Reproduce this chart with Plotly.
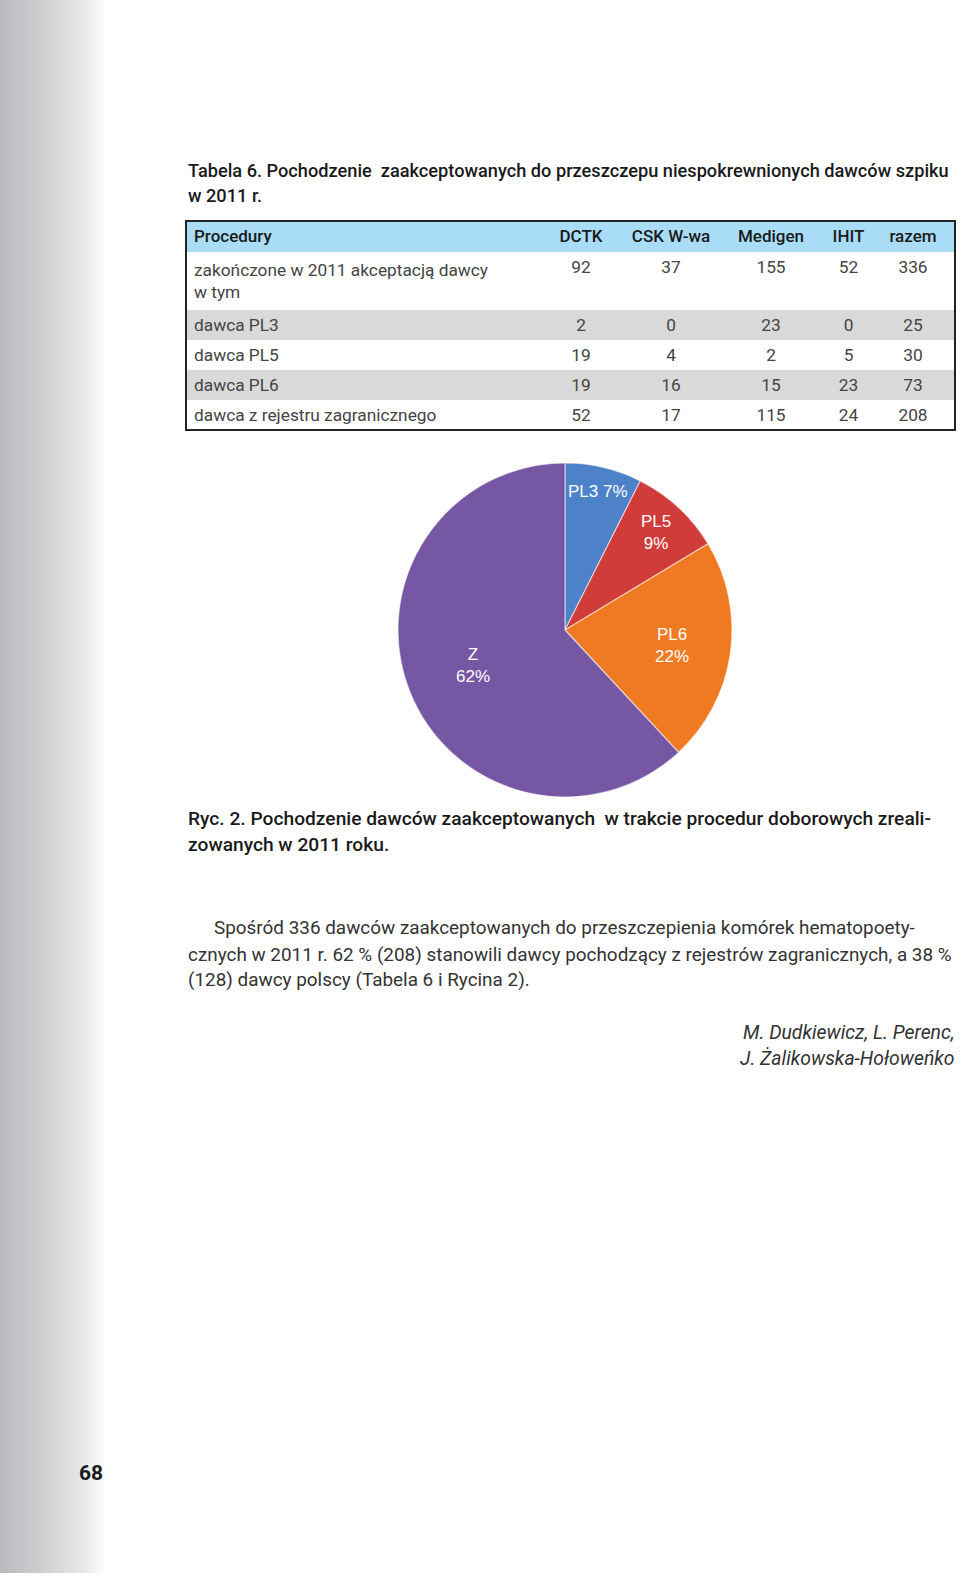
import math
import plotly.graph_objects as go

W, H = 960, 1573

# ---------------- data ----------------
table_columns = ["Procedury", "DCTK", "CSK\u00a0W-wa", "Medigen", "IHIT", "razem"]
row_labels = [
    "zakończone w 2011 akceptacją dawcy<br>w tym",
    "dawca PL3",
    "dawca PL5",
    "dawca PL6",
    "dawca z rejestru zagranicznego",
]
dctk = [92, 2, 19, 19, 52]
csk = [37, 0, 4, 16, 17]
medigen = [155, 23, 2, 15, 115]
ihit = [52, 0, 5, 23, 24]
razem = [336, 25, 30, 73, 208]

pie_labels = ["PL3", "PL5", "PL6", "Z"]
pie_values = [25, 30, 73, 208]

title_lines = [
    "Tabela 6. Pochodzenie  zaakceptowanych do przeszczepu niespokrewnionych dawców szpiku",
    "w 2011 r.",
]
caption_lines = [
    "Ryc. 2. Pochodzenie dawców zaakceptowanych  w trakcie procedur doborowych zreali-",
    "zowanych w 2011 roku.",
]
body_lines = [
    "Spośród 336 dawców zaakceptowanych do przeszczepienia komórek hematopoety-",
    "cznych w 2011 r. 62 % (208) stanowili dawcy pochodzący z rejestrów zagranicznych, a 38 %",
    "(128) dawcy polscy (Tabela 6 i Rycina 2).",
]
author_lines = ["M. Dudkiewicz, L. Perenc,", "J. Żalikowska-Hołoweńko"]
page_number = "68"

# ---------------- style ----------------
FONT = "Roboto, Liberation Sans, sans-serif"
PIE_FONT = "Liberation Sans, Arial, sans-serif"
pie_colors = ["#4d82c9", "#cf3c3a", "#ef7a22", "#7657a3"]
label_radius = [0.85, 0.80, 0.65, 0.59]
label_sep = [" ", "<br>", "<br>", "<br>"]


def fx(x):
    return x / W


def fy(y):
    return 1 - y / H


fig = go.Figure()

# ---------------- table ----------------
tx0, tx1, ty0, ty1 = 186, 955, 221, 430
row_fill = ["#ffffff", "#d9d9d9", "#ffffff", "#d9d9d9", "#ffffff"]
cols = [row_labels, dctk, csk, medigen, ihit, razem]
fig.add_trace(go.Table(
    domain=dict(x=[fx(tx0), fx(tx1)], y=[fy(ty1 + 4), fy(ty0)]),
    columnwidth=[350, 90, 90, 110, 45, 84],
    header=dict(
        values=table_columns,
        fill_color="#a9dcf6",
        line=dict(color="#a9dcf6", width=0),
        align=["left"] + ["center"] * 5,
        font=dict(family=FONT, size=17, color="#1a1a1a", weight=500),
        height=31,
    ),
    cells=dict(
        values=cols,
        fill_color=[row_fill] * 6,
        line=dict(color=[row_fill] * 6, width=0),
        align=["left"] + ["center"] * 5,
        font=dict(family=FONT, size=17.3, color="#444444"),
        height=30,
    ),
))
fig.add_shape(type="rect", xref="paper", yref="paper",
              x0=fx(tx0), x1=fx(tx1), y0=fy(ty1), y1=fy(ty0),
              line=dict(color="#222222", width=2), layer="above")

# ---------------- pie ----------------
cx, cy, R = 565, 630, 167
fig.add_trace(go.Pie(
    labels=pie_labels, values=pie_values,
    sort=False, direction="clockwise", rotation=0,
    marker=dict(colors=pie_colors, line=dict(color="rgba(255,255,255,0.55)", width=1.2)),
    textinfo="none", hoverinfo="label+percent", showlegend=False,
    domain=dict(x=[fx(cx - R), fx(cx + R)], y=[fy(cy + R), fy(cy - R)]),
))
total = sum(pie_values)
cum = 0
annotations = []
for i, (lab, v) in enumerate(zip(pie_labels, pie_values)):
    mid = (cum + v / 2) / total * 2 * math.pi
    cum += v
    r = R * label_radius[i]
    lx = cx + r * math.sin(mid)
    ly = cy - r * math.cos(mid)
    annotations.append(dict(
        x=fx(lx), y=fy(ly), xref="paper", yref="paper", showarrow=False,
        text=f"{lab}{label_sep[i]}{round(v / total * 100)}%",
        font=dict(family=PIE_FONT, size=17, color="white"),
        xanchor="center", yanchor="middle", align="center"))


def add_lines(lines, x, y0, pitch, size, color, weight=400, italic=False, anchor="left"):
    for k, t in enumerate(lines):
        annotations.append(dict(
            x=fx(x), y=fy(y0 + k * pitch), xref="paper", yref="paper",
            showarrow=False, text=t, xanchor=anchor, yanchor="middle",
            font=dict(family=FONT, size=size, color=color, weight=weight,
                      style="italic" if italic else "normal")))


add_lines(title_lines, 186, 170, 26, 18.2, "#1a1a1a", weight=500)
add_lines(caption_lines, 186, 818, 26, 19.2, "#1a1a1a", weight=500)
add_lines(body_lines[:1], 212, 928, 26, 18.9, "#333333")
add_lines(body_lines[1:], 186, 954, 26, 18.9, "#333333")
add_lines(author_lines, 957, 1032, 26, 19.4, "#333333", italic=True, anchor="right")
add_lines([page_number], 91, 1473, 0, 21, "#1a1a1a", weight=700, anchor="center")

# ---------------- left gradient ----------------
stops = [(0, (186, 187, 190)), (40, (204, 206, 208)), (70, (222, 224, 224)),
         (90, (238, 239, 238)), (106, (255, 255, 255))]
step = 2
for x in range(0, 106, step):
    for (a, ca), (b, cb) in zip(stops[:-1], stops[1:]):
        if a <= x < b:
            t = (x + step / 2 - a) / (b - a)
            c = tuple(int(ca[j] + (cb[j] - ca[j]) * t) for j in range(3))
            break
    fig.add_shape(type="rect", xref="paper", yref="paper",
                  x0=fx(x), x1=fx(x + step + 0.5), y0=0, y1=1,
                  fillcolor=f"rgb{c}", line=dict(width=0), layer="below")

fig.update_layout(
    width=W, height=H, margin=dict(l=0, r=0, t=0, b=0),
    paper_bgcolor="white", plot_bgcolor="white",
    annotations=annotations,
)
fig.write_html("out.html")
